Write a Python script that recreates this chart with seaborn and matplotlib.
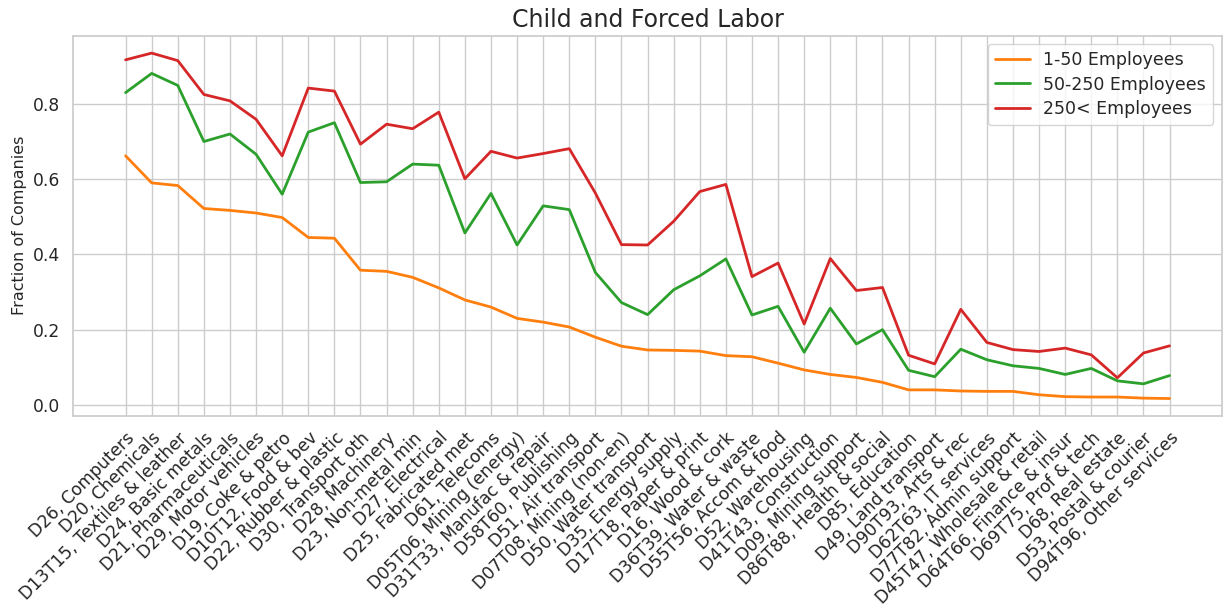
import matplotlib.pyplot as plt
import numpy as np
import pandas as pd
import seaborn as sns

sectors = [
    'D26, Computers', 'D20, Chemicals', 'D13T15, Textiles & leather', 'D24, Basic metals',
    'D21, Pharmaceuticals', 'D29, Motor vehicles', 'D19, Coke & petro', 'D10T12, Food & bev',
    'D22, Rubber & plastic', 'D30, Transport oth', 'D28, Machinery', 'D23, Non-metal min',
    'D27, Electrical', 'D25, Fabricated met', 'D61, Telecoms', 'D05T06, Mining (energy)',
    'D31T33, Manufac & repair', 'D58T60, Publishing', 'D51, Air transport',
    'D07T08, Mining (non-en)', 'D50, Water transport', 'D35, Energy supply',
    'D17T18, Paper & print', 'D16, Wood & cork', 'D36T39, Water & waste',
    'D55T56, Accom & food', 'D52, Warehousing', 'D41T43, Construction', 'D09, Mining support',
    'D86T88, Health & social', 'D85, Education', 'D49, Land transport', 'D90T93, Arts & rec',
    'D62T63, IT services', 'D77T82, Admin support', 'D45T47, Wholesale & retail',
    'D64T66, Finance & insur', 'D69T75, Prof & tech', 'D68, Real estate',
    'D53, Postal & courier', 'D94T96, Other services',
]

small = [0.662, 0.590, 0.583, 0.522, 0.517, 0.510, 0.498, 0.445, 0.443, 0.358,
         0.355, 0.339, 0.311, 0.279, 0.260, 0.230, 0.220, 0.207, 0.180, 0.156,
         0.146, 0.145, 0.143, 0.131, 0.128, 0.111, 0.093, 0.081, 0.073, 0.060,
         0.040, 0.040, 0.037, 0.036, 0.036, 0.027, 0.022, 0.021, 0.021, 0.018, 0.017]

medium = [0.830, 0.881, 0.849, 0.700, 0.720, 0.666, 0.560, 0.725, 0.750, 0.591,
          0.593, 0.640, 0.637, 0.457, 0.562, 0.425, 0.529, 0.519, 0.352, 0.272,
          0.240, 0.306, 0.343, 0.388, 0.239, 0.262, 0.140, 0.257, 0.162, 0.200,
          0.092, 0.075, 0.148, 0.120, 0.104, 0.097, 0.081, 0.097, 0.064, 0.056, 0.078]

large = [0.917, 0.935, 0.915, 0.825, 0.808, 0.759, 0.662, 0.842, 0.834, 0.693,
         0.746, 0.734, 0.778, 0.601, 0.674, 0.656, 0.668, 0.681, 0.563, 0.426,
         0.425, 0.488, 0.567, 0.586, 0.341, 0.377, 0.215, 0.389, 0.304, 0.312,
         0.132, 0.109, 0.254, 0.166, 0.147, 0.142, 0.151, 0.133, 0.072, 0.138, 0.157]

groups = ['1-50 Employees', '50-250 Employees', '250< Employees']

df = pd.DataFrame({'sector': sectors, groups[0]: small, groups[1]: medium, groups[2]: large})
long_df = df.melt(id_vars='sector', var_name='size', value_name='fraction')

sns.set_theme(style='whitegrid', font_scale=1.1)

fig, ax = plt.subplots(figsize=(12.23, 6.07), dpi=100)
sns.lineplot(data=long_df, x='sector', y='fraction', hue='size', sort=False,
             palette=['tab:orange', 'tab:green', 'tab:red'], linewidth=2, ax=ax)

ax.set_title('Child and Forced Labor', fontsize=17)
ax.set_xlabel('')
ax.set_ylabel('Fraction of Companies', fontsize=11.5)
ax.set_xticks(range(len(sectors)))
ax.set_xticklabels(sectors, rotation=45, ha='right', rotation_mode='anchor', fontsize=12.3)
ax.tick_params(axis='y', labelsize=12.3)
ax.legend(title=None, loc='upper right', fontsize=12.5, labelspacing=0.35)

fig.subplots_adjust(left=0.06, right=0.999, top=0.941, bottom=0.315)
plt.savefig('out.png')
